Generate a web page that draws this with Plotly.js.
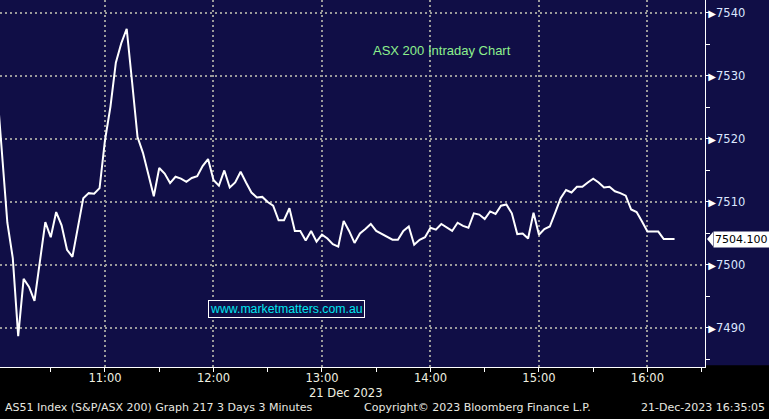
<!DOCTYPE html>
<html>
<head>
<meta charset="utf-8">
<script src="https://cdn.plot.ly/plotly-3.0.1.min.js"></script>
<style>
html,body{margin:0;padding:0;background:#000;}
#chart{width:769px;height:419px;}
</style>
</head>
<body>
<div id="chart"></div>
<script>
const day = '2023-12-21';
const times = [
'10:00','10:03','10:06','10:09','10:12','10:15','10:18','10:21','10:24','10:27',
'10:30','10:33','10:36','10:39','10:42','10:45','10:48','10:51','10:54','10:57',
'11:00','11:03','11:06','11:09','11:12','11:15','11:18','11:21','11:24','11:27',
'11:30','11:33','11:36','11:39','11:42','11:45','11:48','11:51','11:54','11:57',
'12:00','12:03','12:06','12:09','12:12','12:15','12:18','12:21','12:24','12:27',
'12:30','12:33','12:36','12:39','12:42','12:45','12:48','12:51','12:54','12:57',
'13:00','13:03','13:06','13:09','13:12','13:15','13:18','13:21','13:24','13:27',
'13:30','13:33','13:36','13:39','13:42','13:45','13:48','13:51','13:54','13:57',
'14:00','14:03','14:06','14:09','14:12','14:15','14:18','14:21','14:24','14:27',
'14:30','14:33','14:36','14:39','14:42','14:45','14:48','14:51','14:54','14:57',
'15:00','15:03','15:06','15:09','15:12','15:15','15:18','15:21','15:24','15:27',
'15:30','15:33','15:36','15:39','15:42','15:45','15:48','15:51','15:54','15:57',
'16:00','16:03','16:06','16:09','16:12','16:15'
];
const prices = [
7529.0,7518.0,7506.7,7501.1,7488.7,7497.8,7496.5,7494.3,7500.3,7506.8,
7504.4,7508.4,7506.3,7502.4,7501.3,7506.2,7510.6,7511.4,7511.3,7512.2,
7519.8,7525.1,7532.1,7535.2,7537.5,7529.0,7520.3,7517.8,7514.3,7510.9,
7515.4,7514.5,7513.0,7514.0,7513.7,7513.2,7513.8,7514.1,7515.7,7516.8,
7513.5,7512.6,7515.0,7512.3,7513.1,7514.8,7513.1,7511.5,7510.7,7510.8,
7510.0,7509.4,7507.1,7507.1,7509.0,7505.4,7505.4,7503.9,7505.4,7503.7,
7504.8,7504.2,7503.3,7502.9,7507.0,7505.4,7503.5,7505.0,7505.7,7506.5,
7505.4,7504.9,7504.5,7504.0,7504.0,7505.4,7506.1,7503.2,7504.0,7504.4,
7505.9,7505.6,7506.5,7505.9,7505.4,7506.7,7506.2,7505.9,7508.2,7508.0,
7507.3,7508.5,7508.1,7509.4,7509.6,7508.2,7504.9,7505.0,7504.2,7508.3,
7504.8,7505.7,7506.1,7508.3,7510.6,7511.9,7511.5,7512.4,7512.4,7513.1,
7513.7,7513.1,7512.3,7512.4,7511.7,7511.4,7511.0,7508.8,7508.4,7506.9,
7505.3,7505.3,7505.3,7504.1,7504.1,7504.1
];
const yTicks = [7490, 7500, 7510, 7520, 7530, 7540];
const xTickLabels = ['11:00','12:00','13:00','14:00','15:00','16:00'];
const lastPrice = prices[prices.length - 1];

const navy = 'rgb(16,14,70)';
const x = times.map(t => day + ' ' + t);

const trace = {
  x: x, y: prices, type: 'scatter', mode: 'lines',
  line: {color: '#ffffff', width: 2}, hoverinfo: 'skip'
};

const yText = yTicks.map(v => '<span style="color:#ffffff;font-size:10px">▶</span>' + v);

// pointer of the last-price tag (decoration, placed from the last price)
const tipX = 1 + 2 / 705, baseX = 1 + 8 / 705, halfH = 1.15;
const pointerPath = `M ${tipX} ${lastPrice} L ${baseX} ${lastPrice + halfH} L ${baseX} ${lastPrice - halfH} Z`;

const layout = {
  width: 769, height: 419,
  margin: {l: 0, r: 64, t: 0, b: 52, pad: 0},
  paper_bgcolor: '#000000',
  plot_bgcolor: navy,
  showlegend: false,
  font: {family: 'DejaVu Sans, sans-serif', size: 11, color: '#e8e8e0'},
  xaxis: {
    type: 'date',
    range: [day + ' 10:01:56', day + ' 16:31:50'],
    tickvals: xTickLabels.map(t => day + ' ' + t),
    ticktext: xTickLabels,
    ticks: '',
    showgrid: true, gridcolor: '#9a9a9a', gridwidth: 2, griddash: '2px,3px',
    showline: true, linecolor: '#ffffff', linewidth: 1,
    tickfont: {family: 'DejaVu Sans, sans-serif', size: 11.5, color: '#f0f0e0'},
    minor: {dtick: 1800000, ticks: 'outside', ticklen: 4, tickcolor: '#ffffff', tickwidth: 1, showgrid: false},
    zeroline: false, fixedrange: true
  },
  yaxis: {
    side: 'right',
    range: [7483.8, 7542.06],
    tickvals: yTicks,
    ticktext: yText,
    ticks: '',
    ticklabelstandoff: 0,
    showgrid: true, gridcolor: '#9a9a9a', gridwidth: 2, griddash: '2px,3px',
    showline: true, linecolor: '#ffffff', linewidth: 1,
    tickfont: {family: 'DejaVu Sans, sans-serif', size: 11.5, color: '#dce6ff'},
    minor: {dtick: 5, ticks: 'outside', ticklen: 4, tickcolor: '#ffffff', tickwidth: 1, showgrid: false},
    zeroline: false, fixedrange: true
  },
  shapes: [
    {type: 'rect', xref: 'paper', yref: 'paper', x0: 1, x1: 1.1, y0: 0.005, y1: 1,
     fillcolor: navy, line: {width: 0}, layer: 'below'},
    {type: 'path', xref: 'paper', yref: 'y', path: pointerPath,
     fillcolor: '#ffffff', line: {width: 0}, layer: 'above'}
  ],
  annotations: [
    {xref: 'paper', yref: 'paper', x: 0.627, y: 0.862, xanchor: 'center', yanchor: 'middle',
     text: 'ASX 200 Intraday Chart', showarrow: false,
     font: {family: 'Liberation Sans, Arial, sans-serif', size: 13, color: '#8df08d'}},
    {xref: 'paper', yref: 'paper', x: 0.407, y: 0.158, xanchor: 'center', yanchor: 'middle',
     text: 'www.marketmatters.com.au',
     showarrow: false, bordercolor: '#ffffff', borderwidth: 1, borderpad: 1, bgcolor: navy,
     font: {family: 'Liberation Sans, Arial, sans-serif', size: 12.3, color: '#00e6f0'}},
    {xref: 'paper', yref: 'y', x: 1, y: lastPrice, xanchor: 'left', yanchor: 'middle', xshift: 8,
     text: lastPrice.toFixed(3), showarrow: false, bgcolor: '#ffffff', borderpad: 1,
     font: {family: 'DejaVu Sans, sans-serif', size: 11, color: '#000000'}},
    {xref: 'paper', yref: 'paper', x: 0.435, y: -0.0708, xanchor: 'left', yanchor: 'middle',
     text: '21 Dec 2023', showarrow: false,
     font: {family: 'DejaVu Sans, sans-serif', size: 11.5, color: '#f0f0e0'}},
    {xref: 'paper', yref: 'paper', x: 0.004, y: -0.1117, xanchor: 'left', yanchor: 'middle',
     text: 'AS51 Index (S&P/ASX 200) Graph 217 3 Days 3 Minutes', showarrow: false,
     font: {family: 'DejaVu Sans, sans-serif', size: 11, color: '#e8e8e0'}},
    {xref: 'paper', yref: 'paper', x: 0.5135, y: -0.1117, xanchor: 'left', yanchor: 'middle',
     text: 'Copyright© 2023 Bloomberg Finance L.P.', showarrow: false,
     font: {family: 'DejaVu Sans, sans-serif', size: 11, color: '#e8e8e0'}},
    {xref: 'paper', yref: 'paper', x: 1.0875, y: -0.1117, xanchor: 'right', yanchor: 'middle',
     text: '21-Dec-2023 16:35:05', showarrow: false,
     font: {family: 'DejaVu Sans, sans-serif', size: 11, color: '#e8e8e0'}}
  ]
};

Plotly.newPlot('chart', [trace], layout, {staticPlot: true, displayModeBar: false});
</script>
</body>
</html>
